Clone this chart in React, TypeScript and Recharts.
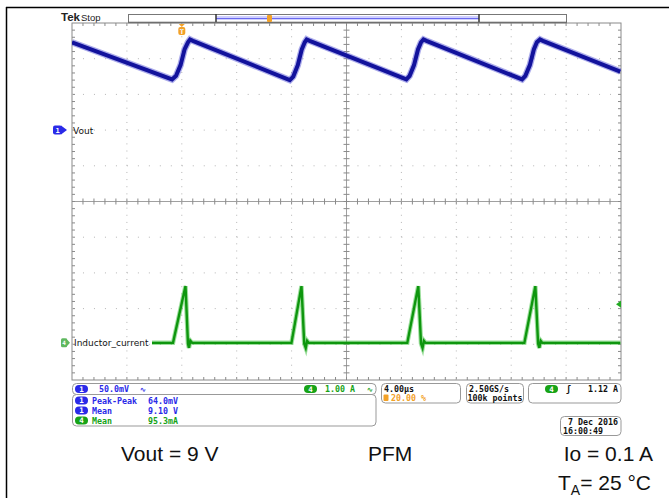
import { Line, LineChart, ReferenceLine, XAxis, YAxis } from "recharts";

// page + graticule geometry (pixels)
const W = 669;
const H = 498;
const X0 = 72;
const X1 = 621;
const Y0 = 23;
const Y1 = 380;
const DX = (X1 - X0) / 10;
const DY = (Y1 - Y0) / 10;

// horizontal: 4 µs/div, trigger at 20 %
const timeDomain = [-8, 32];
const timeGrid = [-4, 0, 4, 8, 16, 20, 24, 28];
// ch4: 1 A/div, ground 9 div below top
const ampDomain = [-1, 9];
const ampGrid = [0, 1, 2, 3, 5, 6, 7, 8];
// ch1: 50 mV/div, 9.00 V reference 3 div below top
const voltDomain = [8.65, 9.15];

// Vout ripple (V) vs time (µs)
const voutTime = [
  -8.0, -0.71, -0.42, -0.09, 0.2, 0.45, 0.6, 0.81,
  7.87, 8.12, 8.45, 8.74, 8.96, 9.1, 9.32,
  16.36, 16.6, 16.92, 17.21, 17.43, 17.61, 17.83,
  24.79, 25.03, 25.36, 25.65, 25.87, 26.1, 26.31,
  31.95,
];
const voutVolts = [
  9.123, 9.071, 9.076, 9.091, 9.113, 9.123, 9.127, 9.125,
  9.07, 9.075, 9.091, 9.113, 9.123, 9.127, 9.125,
  9.071, 9.076, 9.091, 9.113, 9.123, 9.127, 9.125,
  9.071, 9.076, 9.091, 9.113, 9.123, 9.127, 9.125,
  9.082,
];

// inductor current (A) vs time (µs)
const inductorTime = [
  -2.17, -0.64, 0.27, 0.45, 0.52, 0.62, 0.75,
  7.99, 8.72, 8.92, 9.03, 9.13, 9.25,
  16.43, 17.23, 17.43, 17.54, 17.64, 17.76,
  24.96, 25.76, 25.96, 26.05, 26.15, 26.27,
  31.95,
];
const inductorAmps = [
  0.04, 0.04, 1.63, 0.02, -0.1, 0.1, 0.04,
  0.04, 1.63, 0.02, -0.1, 0.1, 0.04,
  0.04, 1.63, 0.02, -0.1, 0.1, 0.04,
  0.04, 1.63, 0.02, -0.1, 0.1, 0.04,
  0.04,
];

const triggerLevel = 1.12;
const measureChannels = ["1", "1", "4"];
const measureNames = ["Peak-Peak", "Mean", "Mean"];
const measureValues = ["64.0mV", "9.10 V", "95.3mA"];

const voutData = voutTime.map((t, k) => ({ t, v: voutVolts[k] }));
const inductorData = inductorTime.map((t, k) => ({ t, v: inductorAmps[k] }));

const BLUE = "#2a2ae8";
const GREEN = "#17a317";
const ORANGE = "#f2a128";
const mono = { fontFamily: "DejaVu Sans Mono", fontWeight: 700, fontSize: 8.3 } as const;
const sans = { fontFamily: "Liberation Sans, Arial, sans-serif", fontSize: 21, fill: "#111" } as const;

const yVolt = (v: number) => Y0 + ((voltDomain[1] - v) / (voltDomain[1] - voltDomain[0])) * (Y1 - Y0);
const yAmp = (a: number) => Y0 + ((ampDomain[1] - a) / (ampDomain[1] - ampDomain[0])) * (Y1 - Y0);

function Pill({ x, y, label, color }: { x: number; y: number; label: string; color: string }) {
  return (
    <g>
      <rect x={x} y={y - 4} width={13} height={8} rx={4} fill={color} />
      <text x={x + 6.5} y={y + 2.8} textAnchor="middle" fill="#fff" style={{ ...mono, fontSize: 7.5 }}>
        {label}
      </text>
    </g>
  );
}

function Ticks() {
  const out: JSX.Element[] = [];
  const cx = X0 + 5 * DX;
  const cy = Y0 + 5 * DY;
  for (let k = 1; k < 50; k++) {
    const x = X0 + (k * DX) / 5;
    const y = Y0 + (k * DY) / 5;
    out.push(<line key={"t" + k} x1={x} x2={x} y1={Y0} y2={Y0 + 3} />);
    out.push(<line key={"b" + k} x1={x} x2={x} y1={Y1} y2={Y1 - 3} />);
    out.push(<line key={"h" + k} x1={x} x2={x} y1={cy - 3} y2={cy + 3} />);
    out.push(<line key={"l" + k} x1={X0} x2={X0 + 3} y1={y} y2={y} />);
    out.push(<line key={"r" + k} x1={X1} x2={X1 - 3} y1={y} y2={y} />);
    out.push(<line key={"v" + k} x1={cx - 3} x2={cx + 3} y1={y} y2={y} />);
  }
  return <g stroke="#8a8a8a" strokeWidth={1}>{out}</g>;
}

function Overlay() {
  const cx = X0 + 5 * DX;
  const cy = Y0 + 5 * DY;
  const trigX = X0 + 0.2 * (X1 - X0);
  const vRef = yVolt(9.0);
  const iRef = yAmp(0);
  const tl = yAmp(triggerLevel);
  return (
    <svg width={W} height={H} style={{ position: "absolute", left: 0, top: 0 }}>
      {/* page frame */}
      <line x1={6.5} x2={6.5} y1={7} y2={H} stroke="#000" strokeWidth={1.5} />
      <line x1={6} x2={W} y1={7.5} y2={7.5} stroke="#000" strokeWidth={1.5} />

      {/* header */}
      <text x={61} y={21} style={{ fontFamily: "Liberation Sans", fontWeight: 700, fontSize: 11.5 }} fill="#222">
        Tek
      </text>
      <text x={81} y={21} style={{ fontFamily: "Liberation Sans", fontSize: 9.5 }} fill="#222">
        Stop
      </text>
      <rect x={128.5} y={14.5} width={438} height={8} fill="#fff" stroke="#777" />
      <rect x={216} y={16} width={263} height={4} fill="#cfcfff" />
      <line x1={216} x2={479} y1={18.5} y2={18.5} stroke="#6a6aee" strokeWidth={1} />
      <line x1={216} x2={216} y1={14} y2={23} stroke="#333" strokeWidth={1.5} />
      <line x1={479} x2={479} y1={14} y2={23} stroke="#333" strokeWidth={1.5} />
      <line x1={128} x2={567} y1={22.5} y2={22.5} stroke="#555" strokeWidth={1.5} />
      <rect x={267} y={15} width={5} height={7} rx={1} fill={ORANGE} />

      {/* graticule */}
      <rect x={X0} y={Y0} width={X1 - X0} height={Y1 - Y0} fill="none" stroke="#8a8a8a" />
      <line x1={cx} x2={cx} y1={Y0} y2={Y1} stroke="#a0a0a0" />
      <line x1={X0} x2={X1} y1={cy} y2={cy} stroke="#a0a0a0" />
      <Ticks />

      {/* trigger position marker */}
      <polygon points={`${trigX - 3},${Y0 + 1} ${trigX + 3},${Y0 + 1} ${trigX},${Y0 + 4}`} fill={ORANGE} />
      <rect x={trigX - 3.5} y={Y0 + 4} width={7} height={8} rx={2} fill={ORANGE} />
      <text x={trigX} y={Y0 + 10.5} textAnchor="middle" fill="#fff" style={{ ...mono, fontSize: 7 }}>
        T
      </text>

      {/* channel markers */}
      <rect x={53} y={vRef - 4.5} width={9} height={9} rx={2} fill={BLUE} />
      <polygon points={`61,${vRef - 4.5} 67,${vRef} 61,${vRef + 4.5}`} fill={BLUE} />
      <text x={57.5} y={vRef + 2.8} textAnchor="middle" fill="#fff" style={{ ...mono, fontSize: 7 }}>
        1
      </text>
      <text x={73} y={vRef + 3.5} style={{ fontFamily: "DejaVu Sans", fontSize: 9 }} fill="#111">
        Vout
      </text>
      <rect x={61} y={iRef - 6} width={6} height={9} rx={1.5} fill="#5fb85f" />
      <polygon points={`66,${iRef - 6} 70,${iRef - 1.5} 66,${iRef + 3}`} fill="#5fb85f" />
      <text x={64} y={iRef + 1} textAnchor="middle" fill="#fff" style={{ ...mono, fontSize: 6 }}>
        4
      </text>
      <text x={74} y={iRef + 1.5} style={{ fontFamily: "DejaVu Sans", fontSize: 9 }} fill="#111">
        Inductor_current
      </text>
      <polygon points={`616,${tl} 621,${tl - 3.5} 621,${tl + 3.5}`} fill="#22aa22" />

      {/* readout boxes */}
      <g fill="#fff" stroke="#999" strokeWidth={1}>
        <rect x={72.5} y={383.5} width={303.5} height={11} rx={4} />
        <rect x={72.5} y={394.5} width={303.5} height={31.5} rx={4} />
        <rect x={381.5} y={383.5} width={79} height={19.5} rx={4} />
        <rect x={466.5} y={383.5} width={57} height={19.5} rx={4} />
        <rect x={528.5} y={383.5} width={92.5} height={19.5} rx={4} />
        <rect x={560.5} y={416.5} width={60.5} height={19} rx={4} />
      </g>
      <Pill x={75} y={389} label="1" color={BLUE} />
      <text x={99} y={392} fill={BLUE} style={mono}>50.0mV</text>
      <text x={140} y={392} fill={BLUE} style={{ ...mono, fontSize: 7 }}>∿</text>
      <Pill x={304} y={389} label="4" color={GREEN} />
      <text x={325} y={392} fill={GREEN} style={mono}>1.00 A</text>
      <text x={367} y={392} fill={GREEN} style={{ ...mono, fontSize: 7 }}>∿</text>
      {measureNames.map((name, k) => {
        const y = 400.5 + k * 10;
        const col = measureChannels[k] === "1" ? BLUE : GREEN;
        return (
          <g key={k}>
            <Pill x={75} y={y} label={measureChannels[k]} color={col} />
            <text x={92} y={y + 3} fill={col} style={mono}>{name}</text>
            <text x={148} y={y + 3} fill={col} style={mono}>{measureValues[k]}</text>
          </g>
        );
      })}
      <text x={384} y={392} fill="#111" style={mono}>4.00µs</text>
      <rect x={383.5} y={394.5} width={5} height={6.5} rx={1} fill={ORANGE} />
      <text x={391} y={401} fill={ORANGE} style={mono}>20.00 %</text>
      <text x={469} y={392} fill="#111" style={mono}>2.50GS/s</text>
      <text x={467.5} y={401} fill="#111" style={mono}>100k points</text>
      <Pill x={545} y={389} label="4" color={GREEN} />
      <text x={566} y={392} fill="#111" style={mono}>ʃ</text>
      <text x={618} y={392} textAnchor="end" fill="#111" style={mono}>1.12 A</text>
      <text x={618} y={424.5} textAnchor="end" fill="#111" style={mono}>7 Dec 2016</text>
      <text x={563} y={433.5} fill="#111" style={mono}>16:00:49</text>

      {/* annotation */}
      <text x={121} y={461} style={sans}>Vout = 9 V</text>
      <text x={368} y={461} style={sans}>PFM</text>
      <text x={653} y={461} textAnchor="end" style={sans}>Io = 0.1 A</text>
      <text x={558} y={490} style={sans}>
        T<tspan fontSize={14} dy={5}>A</tspan>
        <tspan dy={-5}>= 25 °C</tspan>
      </text>
    </svg>
  );
}

export default function App() {
  return (
    <div style={{ position: "absolute", left: 0, top: 0, width: W, height: H, background: "#fff" }}>
      <Overlay />
      <div style={{ position: "absolute", left: 0, top: 0 }}>
        <LineChart
          width={W}
          height={H}
          margin={{ top: Y0, left: X0, right: W - X1, bottom: H - Y1 }}
        >
          <XAxis dataKey="t" type="number" domain={timeDomain} hide allowDataOverflow />
          <YAxis yAxisId="v" domain={voltDomain} hide allowDataOverflow />
          <YAxis yAxisId="i" domain={ampDomain} hide allowDataOverflow />
          {timeGrid.map((t) => (
            <ReferenceLine key={"x" + t} x={t} yAxisId="i" stroke="#b5b5b5" strokeDasharray="1 6.14" />
          ))}
          {ampGrid.map((a) => (
            <ReferenceLine key={"y" + a} y={a} yAxisId="i" stroke="#b5b5b5" strokeDasharray="1 9.98" />
          ))}
          <Line data={voutData} dataKey="v" yAxisId="v" type="linear" stroke="#5a5ad8" strokeOpacity={0.5}
            strokeWidth={6.5} dot={false} isAnimationActive={false} />
          <Line data={voutData} dataKey="v" yAxisId="v" type="linear" stroke="#12129c"
            strokeWidth={4} dot={false} isAnimationActive={false} />
          <Line data={inductorData} dataKey="v" yAxisId="i" type="linear" stroke="#3cc03c" strokeOpacity={0.5}
            strokeWidth={4.5} dot={false} isAnimationActive={false} />
          <Line data={inductorData} dataKey="v" yAxisId="i" type="linear" stroke="#0e960e"
            strokeWidth={2.4} dot={false} isAnimationActive={false} />
        </LineChart>
      </div>
    </div>
  );
}
